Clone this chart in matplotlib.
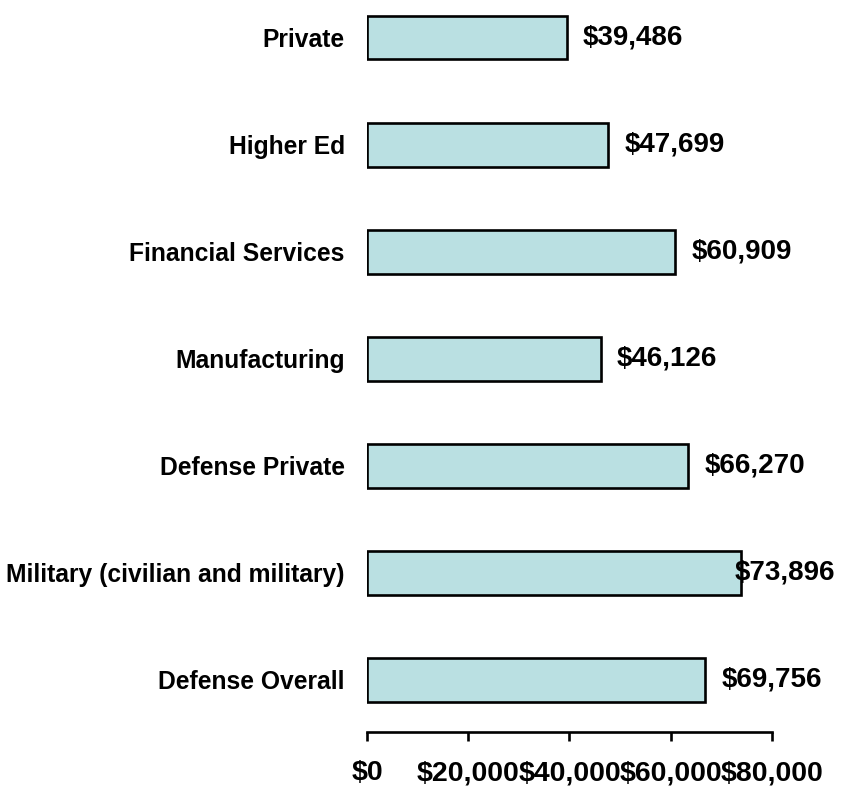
import matplotlib
matplotlib.use('Agg')
import matplotlib.pyplot as plt
import numpy as np

# categories listed top to bottom as in the chart
categories = ['Private', 'Higher Ed', 'Financial Services', 'Manufacturing',
              'Defense Private', 'Military (civilian and military)', 'Defense Overall']
# bar lengths as drawn
bar_values = [39486, 47699, 60909, 46126, 63400, 73896, 66800]
# printed data labels
value_labels = ['$39,486', '$47,699', '$60,909', '$46,126',
                '$66,270', '$73,896', '$69,756']
x_ticks = [0, 20000, 40000, 60000, 80000]
x_tick_labels = ['$0', '$20,000', '$40,000', '$60,000', '$80,000']

plt.rcParams['font.family'] = ['Liberation Sans', 'DejaVu Sans']
plt.rcParams['font.weight'] = 'bold'

fig = plt.figure(figsize=(8.45, 7.92), dpi=100)
ax = fig.add_axes([0.4343, 0.0758, 0.4793, 0.9242])

n = len(categories)
ypos = np.arange(n)[::-1]  # first category on top

ax.barh(ypos, bar_values, height=0.41, color='#bae0e2', edgecolor='black',
        linewidth=1.9, zorder=2)

# data labels just right of each bar (kept inside the figure)
for y, v, lab in zip(ypos, bar_values, value_labels):
    lx = min(v + 3200, 72700)
    ax.text(lx, y, lab, ha='left', va='center', fontsize=20,
            fontweight='bold', zorder=3)

ax.set_xlim(0, 80000)
ax.set_ylim(-0.486, n - 1 + 0.35)

ax.set_yticks(ypos)
ax.set_yticklabels(categories, fontsize=17.7, fontweight='bold')
ax.tick_params(axis='y', length=0, pad=16)

ax.set_xticks(x_ticks)
ax.set_xticklabels(x_tick_labels, fontsize=20.5, fontweight='bold')
ax.tick_params(axis='x', direction='out', length=6.5, width=1.9, pad=14)

for side in ['left', 'right', 'top']:
    ax.spines[side].set_visible(False)
ax.spines['bottom'].set_linewidth(1.9)

fig.savefig('out.png', dpi=100)
